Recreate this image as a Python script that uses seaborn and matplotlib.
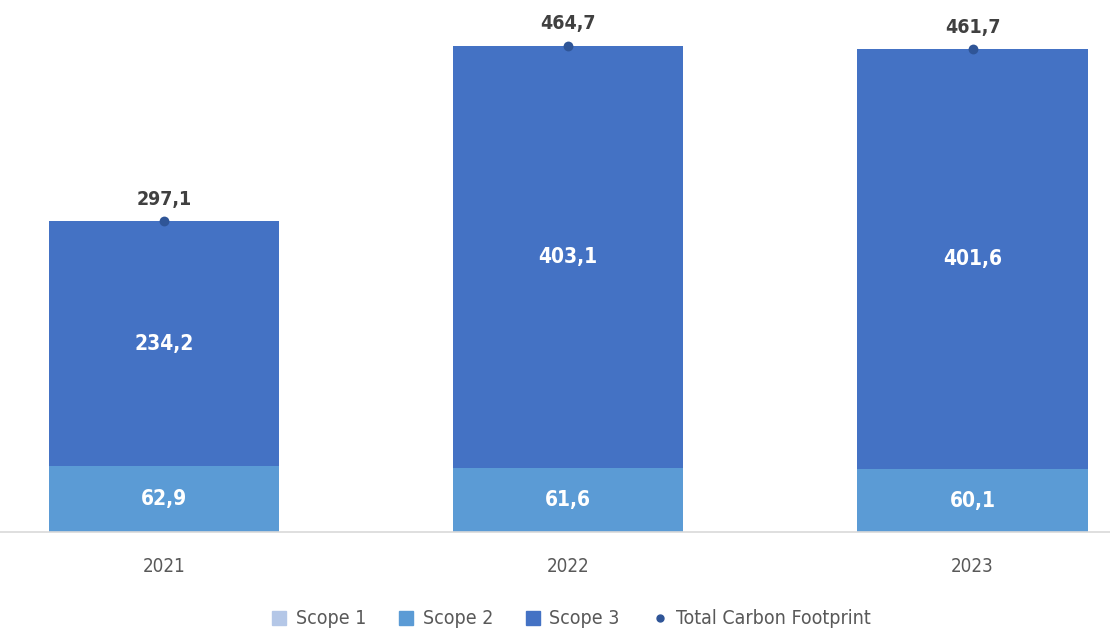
import numpy as np
import pandas as pd
import matplotlib
matplotlib.use("Agg")
import matplotlib.pyplot as plt
import seaborn as sns
from matplotlib.lines import Line2D
from matplotlib.patches import Patch

years = ["2021", "2022", "2023"]
scope1 = [0.0, 0.0, 0.0]
scope2 = [62.9, 61.6, 60.1]
scope3 = [234.2, 403.1, 401.6]
total = [297.1, 464.7, 461.7]

c_scope1 = "#B4C7E7"
c_scope2 = "#5B9BD5"
c_scope3 = "#4472C4"
c_total = "#2F5597"

sns.set_style("white")
plt.rcParams["font.family"] = ["DejaVu Sans", "Roboto"]
plt.rcParams["font.stretch"] = "condensed"


def fmt(v):
    return f"{v:.1f}".replace(".", ",")


df = pd.DataFrame({"year": years, "s1": scope1, "s2": scope2, "s3": scope3, "total": total})

fig = plt.figure(figsize=(11.1, 6.32), dpi=100)
ax = fig.add_axes([0.0, 100 / 632, 1.0, 523 / 632])

w = 0.57
sns.barplot(data=df, x="year", y="s1", color=c_scope1, width=w, saturation=1,
            linewidth=0, ax=ax)
sns.barplot(data=df, x="year", y="s2", color=c_scope2, width=w, saturation=1,
            linewidth=0, bottom=df["s1"], ax=ax)
sns.barplot(data=df, x="year", y="s3", color=c_scope3, width=w, saturation=1,
            linewidth=0, bottom=df["s1"] + df["s2"], ax=ax)
sns.scatterplot(data=df, x="year", y="total", color=c_total, s=50, linewidth=0,
                ax=ax, zorder=5)

x = np.arange(len(years))
for i in x:
    ax.text(i, df["s1"][i] + df["s2"][i] / 2, fmt(df["s2"][i]), ha="center", va="center",
            color="white", fontsize=15, fontweight="bold")
    ax.text(i, df["s1"][i] + df["s2"][i] + df["s3"][i] / 2, fmt(df["s3"][i]), ha="center",
            va="center", color="white", fontsize=15, fontweight="bold")
    ax.text(i, df["total"][i] + 12, fmt(df["total"][i]), ha="center", va="bottom",
            color="#404040", fontsize=14, fontweight="bold")

ax.set_xlim(-0.405, 2.34)
ax.set_ylim(0, 500)
ax.set_xlabel("")
ax.set_ylabel("")
ax.set_yticks([])
ax.tick_params(axis="x", length=0, pad=18, labelsize=13.5, labelcolor="#595959")
for s in ["top", "right", "left"]:
    ax.spines[s].set_visible(False)
ax.spines["bottom"].set_color("#D9D9D9")
ax.spines["bottom"].set_linewidth(1.2)

handles = [
    Patch(color=c_scope1, label="Scope 1"),
    Patch(color=c_scope2, label="Scope 2"),
    Patch(color=c_scope3, label="Scope 3"),
    Line2D([], [], marker="o", linestyle="", color=c_total, markersize=5,
           label="Total Carbon Footprint"),
]
leg = fig.legend(handles=handles, loc="center", bbox_to_anchor=(0.515, 1 - 619 / 632), ncol=4,
                 frameon=False, fontsize=14, handlelength=0.7, handleheight=0.7,
                 handletextpad=0.5, columnspacing=1.7)
for t in leg.get_texts():
    t.set_color("#595959")

fig.savefig("out.png", dpi=100)
